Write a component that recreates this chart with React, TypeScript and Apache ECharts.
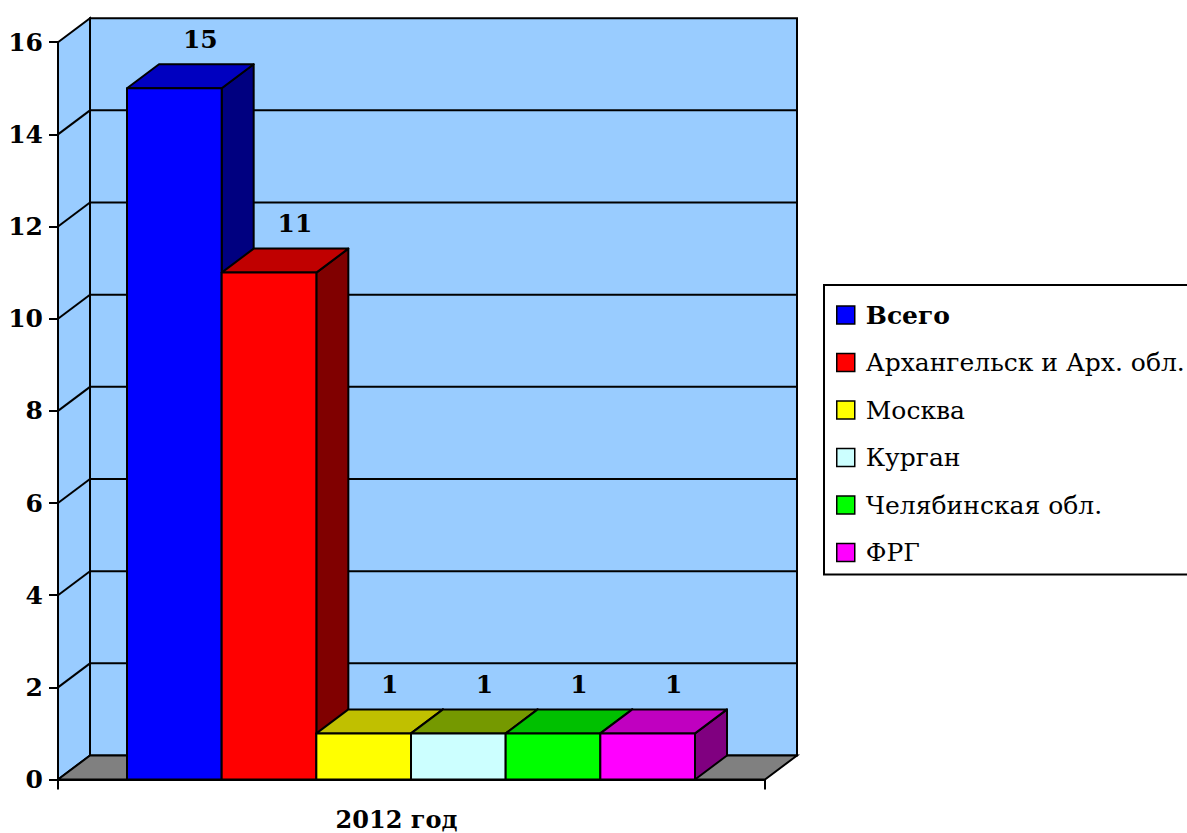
import React, { useEffect, useRef } from "react";
import * as echarts from "echarts";

const categories = ["2012 год"];
const seriesNames = ["Всего", "Архангельск и Арх. обл.", "Москва", "Курган", "Челябинская обл.", "ФРГ"];
const seriesValues = [15, 11, 1, 1, 1, 1];
const yTicks = { min: 0, max: 16, interval: 2 };

const frontColors = ["#0000FF", "#FF0000", "#FFFF00", "#CCFFFF", "#00FF00", "#FF00FF"];
const topColors = ["#0000C0", "#C00000", "#C0C000", "#759900", "#00C000", "#C000C0"];
const sideColors = ["#000080", "#800000", "#808000", "#668080", "#008000", "#800080"];

const FONT = "DejaVu Serif";
const DX = 32;
const DY = -24;
const LEFT_PAD = 0.0976;
const BAR_FRAC = 0.1339;
const LINE = "#000";

export default function App() {
  const ref = useRef<HTMLDivElement>(null);
  useEffect(() => {
    if (!ref.current) return;
    const chart = echarts.init(ref.current, null, { renderer: "svg" });

    const frameSeries: any = {
      type: "custom",
      name: "__frame",
      silent: true,
      z: 1,
      data: [[0, 0]],
      renderItem: (params: any, api: any) => {
        const cs = params.coordSys;
        const x0 = cs.x;
        const x1 = cs.x + cs.width;
        const yBot = api.coord([0, yTicks.min])[1];
        const yTop = api.coord([0, yTicks.max])[1];
        const children: any[] = [];
        children.push({
          type: "polygon",
          shape: { points: [[x0, yTop], [x0 + DX, yTop + DY], [x0 + DX, yBot + DY], [x0, yBot]] },
          style: { fill: "#99CCFF", stroke: LINE, lineWidth: 2 },
        });
        children.push({
          type: "rect",
          shape: { x: x0 + DX, y: yTop + DY, width: x1 - x0, height: yBot - yTop },
          style: { fill: "#99CCFF", stroke: LINE, lineWidth: 2 },
        });
        children.push({
          type: "polygon",
          shape: { points: [[x0, yBot], [x0 + DX, yBot + DY], [x1 + DX, yBot + DY], [x1, yBot]] },
          style: { fill: "#808080", stroke: LINE, lineWidth: 2 },
        });
        for (let v = yTicks.min + yTicks.interval; v < yTicks.max; v += yTicks.interval) {
          const y = api.coord([0, v])[1];
          children.push({
            type: "line",
            shape: { x1: x0 + DX, y1: y + DY, x2: x1 + DX, y2: y + DY },
            style: { stroke: LINE, lineWidth: 2 },
          });
          children.push({
            type: "line",
            shape: { x1: x0, y1: y, x2: x0 + DX, y2: y + DY },
            style: { stroke: LINE, lineWidth: 2 },
          });
        }
        return { type: "group", children };
      },
    };

    const barSeries = seriesNames.map((name, s) => ({
      type: "custom",
      name,
      z: 2,
      itemStyle: { color: frontColors[s] },
      data: [[0, seriesValues[s]]],
      renderItem: (params: any, api: any) => {
        const base = api.coord([api.value(0), 0]);
        const topP = api.coord([api.value(0), api.value(1)]);
        const band = api.size([1, 0])[0];
        const bandStart = base[0] - band / 2;
        const w = band * BAR_FRAC;
        const xl = bandStart + band * LEFT_PAD + s * w;
        const xr = xl + w;
        const yb = base[1];
        const yt = topP[1];
        const stroke = { stroke: LINE, lineWidth: 2, lineJoin: "round" };
        return {
          type: "group",
          children: [
            {
              type: "polygon",
              shape: { points: [[xr, yt], [xr + DX, yt + DY], [xr + DX, yb + DY], [xr, yb]] },
              style: { fill: sideColors[s], ...stroke },
            },
            {
              type: "polygon",
              shape: { points: [[xl, yt], [xl + DX, yt + DY], [xr + DX, yt + DY], [xr, yt]] },
              style: { fill: topColors[s], ...stroke },
            },
            {
              type: "rect",
              shape: { x: xl, y: yt, width: w, height: yb - yt },
              style: { fill: frontColors[s], ...stroke },
            },
            {
              type: "text",
              x: (xl + xr) / 2 + 26,
              y: yt + DY - 25,
              style: {
                text: String(api.value(1)),
                fill: "#000",
                fontFamily: FONT,
                fontWeight: "bold",
                fontSize: 25,
                align: "center",
                verticalAlign: "middle",
              },
            },
          ],
        };
      },
    }));

    chart.setOption({
      animation: false,
      backgroundColor: "#fff",
      textStyle: { fontFamily: FONT },
      grid: { left: 58, right: 422, top: 42.2, bottom: 53.5, containLabel: false },
      legend: {
        orient: "vertical",
        left: 824,
        top: 285,
        padding: [16, 10, 8, 12],
        backgroundColor: "#fff",
        borderColor: "#000",
        borderWidth: 2,
        borderRadius: 0,
        itemWidth: 18,
        itemHeight: 18,
        itemGap: 19.5,
        icon: "rect",
        selectedMode: false,
        textStyle: { fontFamily: FONT, fontSize: 25, color: "#000", lineHeight: 28, padding: [0, 0, 0, 6] },
        data: seriesNames.map((name, s) => ({
          name,
          icon: "rect",
          itemStyle: { color: frontColors[s], borderColor: "#000", borderWidth: 1.5 },
          textStyle: s === 0 ? { fontWeight: "bold" } : { fontWeight: "normal" },
        })),
      },
      xAxis: {
        type: "category",
        data: categories,
        boundaryGap: true,
        axisLine: { show: true, lineStyle: { color: "#000", width: 2 } },
        axisTick: { show: true, length: 10, lineStyle: { color: "#000", width: 2 } },
        axisLabel: {
          color: "#000",
          fontFamily: FONT,
          fontWeight: "bold",
          fontSize: 24,
          margin: 28,
          padding: [0, 30, 0, 0],
        },
        splitLine: { show: false },
      },
      yAxis: {
        type: "value",
        min: yTicks.min,
        max: yTicks.max,
        interval: yTicks.interval,
        axisLine: { show: true, lineStyle: { color: "#000", width: 2 } },
        axisTick: { show: true, length: 9, lineStyle: { color: "#000", width: 2 } },
        axisLabel: { color: "#000", fontFamily: FONT, fontWeight: "bold", fontSize: 25, margin: 15 },
        splitLine: { show: false },
      },
      series: [frameSeries, ...barSeries],
    });

    return () => chart.dispose();
  }, []);

  return (
    <div
      ref={ref}
      style={{ position: "fixed", left: 0, top: 0, width: 1187, height: 833, background: "#fff" }}
    />
  );
}
